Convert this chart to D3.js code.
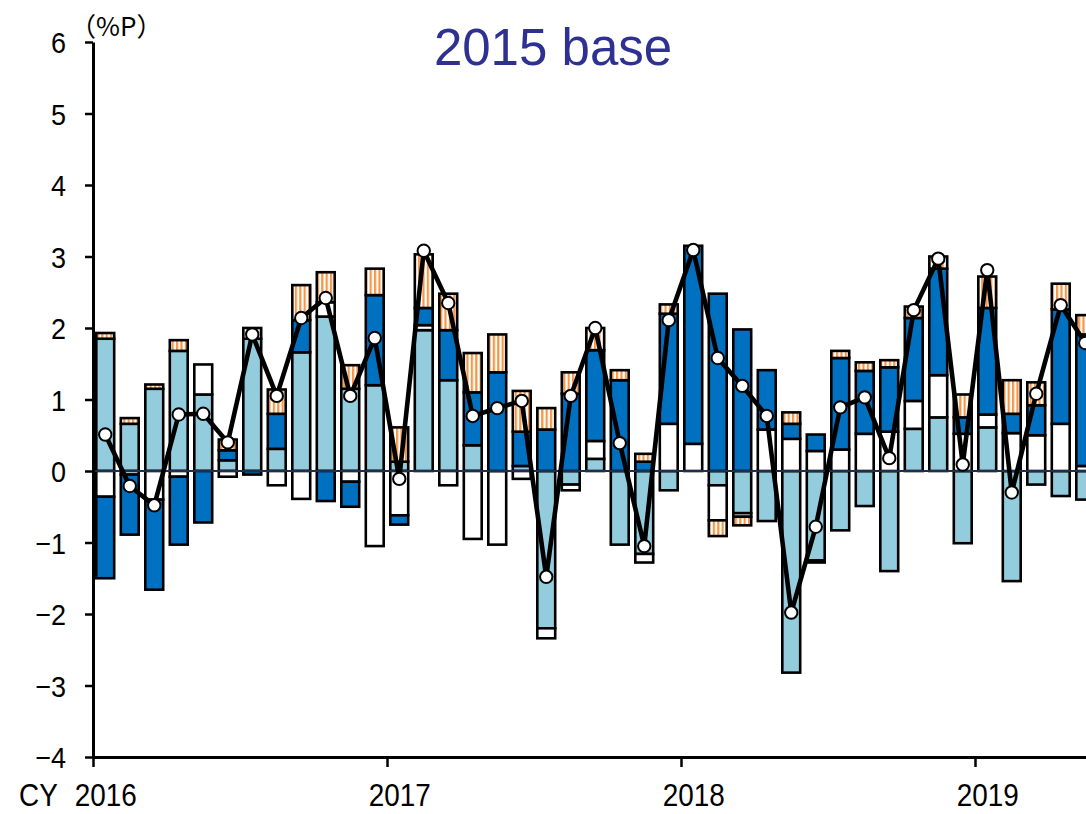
<!DOCTYPE html>
<html><head><meta charset="utf-8">
<script src="https://cdn.jsdelivr.net/npm/d3@7"></script>
<style>html,body{margin:0;padding:0;background:#fff;overflow:hidden}</style>
</head><body><svg id="c" width="1086" height="814"></svg>
<script>
const months = [
 "2016-01","2016-02","2016-03","2016-04","2016-05","2016-06","2016-07","2016-08","2016-09","2016-10","2016-11","2016-12",
 "2017-01","2017-02","2017-03","2017-04","2017-05","2017-06","2017-07","2017-08","2017-09","2017-10","2017-11","2017-12",
 "2018-01","2018-02","2018-03","2018-04","2018-05","2018-06","2018-07","2018-08","2018-09","2018-10","2018-11","2018-12",
 "2019-01","2019-02","2019-03","2019-04","2019-05"];
const lightBlue = [1.85,0.66,1.15,1.68,1.07,0.15,1.85,0.31,1.66,2.16,1.15,1.20,
 0.13,1.97,1.27,0.36,0,0.07,-2.20,-0.19,0.17,-1.03,-1.16,-0.27,
 0,-0.20,-0.59,-0.70,-2.82,-1.25,-0.83,-0.49,-1.40,0.59,0.75,-1.01,
 0.61,-1.54,-0.19,-0.35,-0.40];
const whiteSeg = [-0.36,-0.05,-0.40,-0.08,0.42,-0.08,0,-0.20,-0.39,0.20,-0.15,-1.05,
 -0.62,0.07,-0.20,-0.95,-1.03,-0.11,-0.14,-0.08,0.25,0,-0.12,0.66,
 0.38,-0.49,-0.05,0.58,0.45,0.28,0.30,0.52,0.55,0.39,0.59,0.52,
 0.18,0.53,0.50,0.66,0.07];
const darkBlue = [-1.14,-0.84,-1.26,-0.95,-0.72,0.14,-0.05,0.49,0.45,-0.42,-0.35,1.26,
 -0.13,0.24,0.70,0.74,1.38,0.48,0.58,1.08,1.27,1.27,0.13,1.54,
 2.77,2.48,1.98,0.83,0.21,0.23,1.28,0.88,0.90,1.16,1.49,0.23,
 1.49,0.27,0.42,1.60,1.84];
const orange = [0.08,0.08,0.06,0.15,0,0.15,0.15,0.34,0.49,0.42,0.33,0.37,
 0.48,0.75,0.51,0.55,0.53,0.57,0.30,0.30,0.31,0.14,0.11,0.13,
 0,-0.22,-0.12,0,0.16,-0.03,0.10,0.12,0.10,0.16,0.17,0.32,
 0.44,0.47,0.32,0.36,0.27];
const total = [0.51,-0.21,-0.48,0.79,0.80,0.40,1.91,1.05,2.14,2.42,1.05,1.86,
 -0.11,3.08,2.35,0.77,0.88,0.98,-1.48,1.05,2.00,0.39,-1.05,2.11,
 3.09,1.58,1.19,0.77,-1.98,-0.78,0.89,1.03,0.18,2.25,2.97,0.09,
 2.81,-0.30,1.08,2.32,1.79];
const yTicks = [-4,-3,-2,-1,0,1,2,3,4,5,6];
const yearTicks = [0,12,24,36];
const yearLabels = ["2016","2017","2018","2019"];
const seriesKeys = ["lightBlue","white","darkBlue","orange"];
const seriesFill = {lightBlue:"#93CDDD", white:"#FFFFFF", darkBlue:"#0070C0", orange:"url(#hatch)"};

const svg = d3.select("#c");
const defs = svg.append("defs");
const pat = defs.append("pattern").attr("id","hatch").attr("patternUnits","userSpaceOnUse")
  .attr("width",4.4).attr("height",10);
pat.append("rect").attr("width",4.4).attr("height",10).attr("fill","#fff");
pat.append("rect").attr("width",2.2).attr("height",10).attr("fill","#F79646");

const x0 = 93, step = 24.5, n = months.length;
const x = d3.scaleBand().domain(months).range([x0, x0 + step*n]).paddingInner(0.27).paddingOuter(0.135);
const xi = d3.scaleLinear().domain([0, n]).range([x0, x0 + step*n]);
const y = d3.scaleLinear().domain([-4, 6]).range([757, 42]);

const rows = months.map((m,i)=>({m, lightBlue:lightBlue[i], white:whiteSeg[i], darkBlue:darkBlue[i], orange:orange[i]}));
const stack = d3.stack().keys(seriesKeys).offset(d3.stackOffsetDiverging)(rows);

const gBars = svg.append("g");
stack.forEach(layer=>{
  gBars.append("g").selectAll("rect").data(layer.filter(d=>d[1]!==d[0])).join("rect")
    .attr("x", d=>x(d.data.m)).attr("width", x.bandwidth())
    .attr("y", d=>y(Math.max(d[0],d[1]))).attr("height", d=>Math.abs(y(d[0])-y(d[1])))
    .attr("fill", seriesFill[layer.key]).attr("stroke","#000").attr("stroke-width",2.6);
});

// zero line
svg.append("line").attr("x1",x0).attr("x2",1086).attr("y1",y(0)).attr("y2",y(0))
  .attr("stroke","#1F2D4E").attr("stroke-width",2);

// total line
const line = d3.line().x((d,i)=>x(months[i])+x.bandwidth()/2).y(d=>y(d));
svg.append("path").datum(total).attr("d",line).attr("fill","none")
  .attr("stroke","#000").attr("stroke-width",4.6).attr("stroke-linejoin","round");
svg.append("g").selectAll("circle").data(total).join("circle")
  .attr("cx",(d,i)=>x(months[i])+x.bandwidth()/2).attr("cy",d=>y(d)).attr("r",6.2)
  .attr("fill","#fff").attr("stroke","#000").attr("stroke-width",2);

// y axis
const sx = 0.9;
const yAxis = svg.append("g").attr("transform",`translate(${x0},0)`)
  .call(d3.axisLeft(y).tickValues(yTicks).tickSize(8).tickSizeOuter(0).tickFormat(d3.format("d")));
yAxis.select(".domain").attr("stroke","#000").attr("stroke-width",3);
yAxis.selectAll(".tick line").attr("stroke","#000").attr("stroke-width",2.5);
yAxis.selectAll(".tick text").attr("font-family","'Liberation Sans', Arial, sans-serif")
  .attr("font-size",30).attr("fill","#000").attr("x",-27/sx).attr("dy","0.36em")
  .attr("transform",`scale(${sx},1)`);

// x axis
const xAxis = svg.append("g").attr("transform",`translate(0,${y(-4)})`)
  .call(d3.axisBottom(xi).tickValues(yearTicks).tickSize(10).tickSizeOuter(0).tickFormat((d,i)=>yearLabels[i]));
xAxis.select(".domain").attr("stroke","#000").attr("stroke-width",3);
xAxis.selectAll(".tick line").attr("stroke","#000").attr("stroke-width",2.5);
xAxis.selectAll(".tick text").attr("font-family","'Liberation Sans', Arial, sans-serif")
  .attr("font-size",31).attr("fill","#000").attr("y",27).attr("dy","0.71em")
  .attr("x",(step/2)/sx).attr("transform",`scale(${sx},1)`);

svg.append("text").attr("x",19/sx).attr("y",y(-4)+27).attr("dy","0.71em")
  .attr("transform",`scale(${sx},1)`)
  .attr("font-family","'Liberation Sans', Arial, sans-serif").attr("font-size",31).text("CY");

// unit label
svg.append("text").attr("x",70).attr("y",36).attr("font-family","'Noto Sans CJK JP', sans-serif")
  .attr("font-size",26).attr("fill","#000").text("（%P）");

// title
svg.append("text").attr("x",553).attr("y",65).attr("text-anchor","middle")
  .attr("font-family","'Liberation Sans', Arial, sans-serif").attr("font-size",51)
  .attr("fill","#2E3192").text("2015 base");
</script></body></html>
